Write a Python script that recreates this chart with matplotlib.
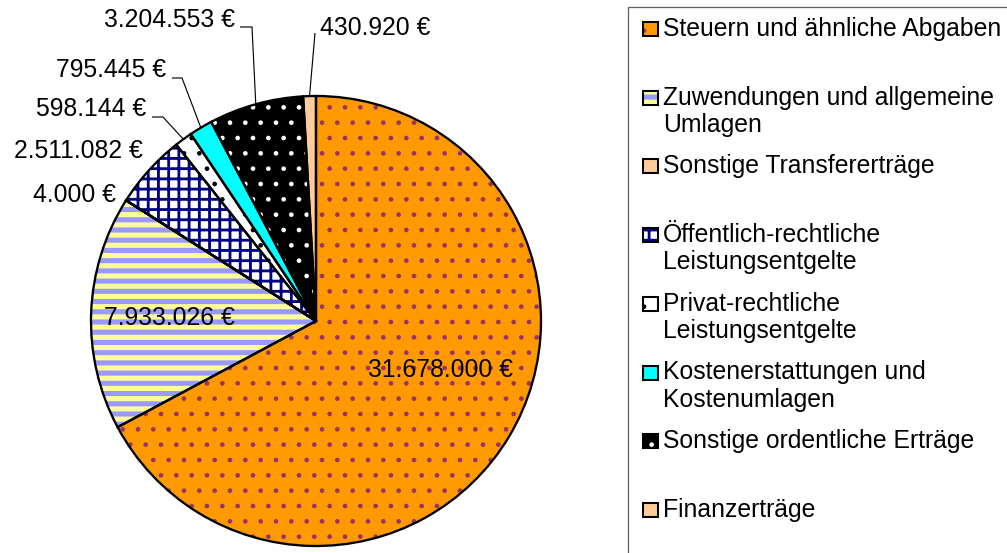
import matplotlib
matplotlib.use("Agg")
import matplotlib.pyplot as plt
import numpy as np
from matplotlib.patches import Rectangle

# ---------------- data ----------------
categories = [
    "Steuern und ähnliche Abgaben",
    "Zuwendungen und allgemeine\nUmlagen",
    "Sonstige Transfererträge",
    "Öffentlich-rechtliche\nLeistungsentgelte",
    "Privat-rechtliche\nLeistungsentgelte",
    "Kostenerstattungen und\nKostenumlagen",
    "Sonstige ordentliche Erträge",
    "Finanzerträge",
]
values = [31678000, 7933026, 4000, 2511082, 598144, 795445, 3204553, 430920]

# ---------------- styles ----------------
face_colors = ["#FF9900", "#FFFF99", "#FFCC99", "#FFFFFF", "#FFFFFF", "#00FFFF", "#000000", "#FFCC99"]
hatch_colors = ["#993366", "#9999FF", "#FFCC99", "#000080", "#000000", "#00FFFF", "#FFFFFF", "#FFCC99"]
hatches = ["..", "---", None, "+++", "..", None, "..", None]
hatch_lws = [0.6, 2.0, 0.5, 1.1, 0.6, 0.5, 0.6, 0.5]

W, H = 1007, 553
DPI = 184
FONT = "Liberation Sans"
FS = 9.7

# layout (pixel coordinates of the reference, y measured from top)
label_pos = [(440, 377, "center"), (169, 325, "center"), (116, 202, "right"),
             (143, 158, "right"), (146, 116, "right"), (166, 77, "right"),
             (235, 27, "right"), (320, 35, "left")]
leader_elbows = [None, None, None, None,
                 [(152, 117), (163, 117)],
                 [(172, 78), (182, 78)],
                 [(240, 27), (252, 27)],
                 [(315, 33)]]
CX, CY, R = 316, 321, 225

plt.rcParams["hatch.linewidth"] = 0.6
fig = plt.figure(figsize=(W / DPI, H / DPI), dpi=DPI)
ax = fig.add_axes([0, 0, 1, 1])


def Y(py):
    return H - py


def style_patch(p, hc, ht, hl):
    p.set_edgecolor(hc)
    p.set_linewidth(0)
    if ht:
        p.set_hatch(ht)
    if hasattr(p, "set_hatch_linewidth"):
        p.set_hatch_linewidth(hl)


wedges, _ = ax.pie(values, startangle=90, counterclock=False, center=(CX, Y(CY)),
                   radius=R, colors=face_colors, wedgeprops=dict(linewidth=0),
                   frame=True)
for w, hc, ht, hl in zip(wedges, hatch_colors, hatches, hatch_lws):
    style_patch(w, hc, ht, hl)

outline, _ = ax.pie(values, startangle=90, counterclock=False, center=(CX, Y(CY)),
                    radius=R, wedgeprops=dict(fill=False, edgecolor="black", linewidth=0.9),
                    frame=True)
ax.set_xlim(0, W)
ax.set_ylim(0, H)
ax.set_aspect("equal")
ax.axis("off")

# value labels
for i, (v, w) in enumerate(zip(values, wedges)):
    txt = f"{v:,}".replace(",", ".") + " €"
    x, by, ha = label_pos[i]
    ax.text(x, Y(by), txt, ha=ha, va="baseline", fontsize=FS, family=FONT, color="black")
    if leader_elbows[i]:
        th = np.deg2rad((w.theta1 + w.theta2) / 2)
        ex, ey = CX + R * np.cos(th), Y(CY) + R * np.sin(th)
        xs = [p[0] for p in leader_elbows[i]] + [ex]
        ys = [Y(p[1]) for p in leader_elbows[i]] + [ey]
        ax.plot(xs, ys, color="black", lw=0.45, solid_capstyle="butt")

# legend (manual, Excel-like layout)
ax.add_patch(Rectangle((628, -20), 600, Y(7) + 20, fill=False, edgecolor="#606060",
                       lw=0.5, clip_on=True))
for i, lab in enumerate(categories):
    base = 36 + 68.7 * i
    m = Rectangle((643, Y(base)), 15, 14, facecolor=face_colors[i])
    style_patch(m, hatch_colors[i], hatches[i], hatch_lws[i])
    ax.add_patch(m)
    ax.add_patch(Rectangle((643, Y(base)), 15, 14, fill=False,
                           edgecolor="black", lw=0.8))
    for j, line in enumerate(lab.split("\n")):
        ax.text(663, Y(base + 27 * j), line, ha="left", va="baseline",
                fontsize=FS, family=FONT, color="black")

fig.savefig("out.png", dpi=DPI)
